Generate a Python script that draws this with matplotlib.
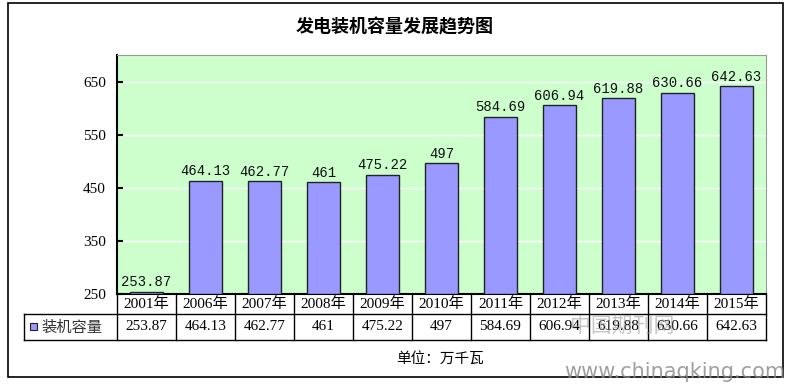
import matplotlib.pyplot as plt
from matplotlib.patches import Rectangle

plt.rcParams['font.family'] = ['Noto Sans CJK SC', 'DejaVu Sans']

years = ['2001年', '2006年', '2007年', '2008年', '2009年', '2010年',
         '2011年', '2012年', '2013年', '2014年', '2015年']
capacity = [253.87, 464.13, 462.77, 461, 475.22, 497,
            584.69, 606.94, 619.88, 630.66, 642.63]
value_text = ['253.87', '464.13', '462.77', '461', '475.22', '497',
              '584.69', '606.94', '619.88', '630.66', '642.63']
series_name = '装机容量'
y_ticks = [250, 350, 450, 550, 650]

W, H = 790, 385
bar_color = '#9999FF'
bg_color = '#CCFFCC'


def fx(px):
    return px / W


def fy(py):
    return 1 - py / H


fig = plt.figure(figsize=(W / 100, H / 100), dpi=100)

# outer chart border
fig.patches.append(Rectangle((fx(8), fy(377)), fx(783) - fx(8), fy(3) - fy(377),
                             transform=fig.transFigure, fill=False,
                             edgecolor='black', linewidth=1.2))

fig.text(fx(395), fy(27), '发电装机容量发展趋势图', ha='center', va='center',
         fontsize=13, fontweight='bold')

# plot area
ax = fig.add_axes([fx(117), fy(294), fx(766) - fx(117), fy(55) - fy(294)])
ax.set_facecolor(bg_color)
x = list(range(len(years)))
ax.bar(x, [v - 250 for v in capacity], bottom=250, width=0.56,
       color=bar_color, edgecolor='#222222', linewidth=1, zorder=3)
for xi, v, t in zip(x, capacity, value_text):
    ax.text(xi, v + 5, t, ha='center', va='bottom', fontsize=10,
            family=['Liberation Mono', 'DejaVu Sans Mono'], color='#111111')

ax.set_xlim(-0.5, len(years) - 0.5)
ax.set_ylim(250, 702)
ax.set_yticks(y_ticks)
ax.set_yticklabels([str(t) for t in y_ticks], family=['Liberation Serif'], fontsize=11)
ax.yaxis.grid(True, color='white', linewidth=1)
ax.set_axisbelow(True)
ax.set_xticks([])
ax.tick_params(axis='y', length=4, width=1.5, direction='in', pad=8)
ax.spines['left'].set_linewidth(1.5)
ax.spines['bottom'].set_linewidth(1.5)
ax.spines['top'].set_color('#999999')
ax.spines['right'].set_color('#999999')

# data table under the plot
tax = fig.add_axes([fx(117), fy(340), fx(766) - fx(117), fy(294) - fy(340)])
tax.set_xlim(-0.5, len(years) - 0.5)
tax.set_ylim(340, 294)
tax.axis('off')
row_mid = 314
left_edge = -0.5 - (117 - 24) / ((766 - 117) / len(years))
lw = 1
tax.plot([left_edge, len(years) - 0.5], [row_mid, row_mid], color='black', lw=lw, clip_on=False)
tax.plot([left_edge, len(years) - 0.5], [340, 340], color='black', lw=lw, clip_on=False)
tax.plot([left_edge, left_edge], [row_mid, 340], color='black', lw=lw, clip_on=False)
for b in range(len(years) + 1):
    tax.plot([b - 0.5, b - 0.5], [294, 340], color='black', lw=lw, clip_on=False)
for xi, yr, t in zip(x, years, value_text):
    tax.text(xi, 304.5, yr, ha='center', va='center', fontsize=11,
             family=['Liberation Serif', 'Noto Sans CJK SC'])
    tax.text(xi, 327, t, ha='center', va='center', fontsize=11,
             family=['Liberation Serif'])

# legend key in the table
key_x = left_edge + 0.1
tax.add_patch(Rectangle((key_x, 323), 0.12, 7, facecolor=bar_color,
                        edgecolor='#222222', lw=0.8, clip_on=False))
tax.text(key_x + 0.19, 327, series_name, ha='left', va='center', fontsize=11,
         color='#333333')

fig.text(fx(440), fy(359), '单位：万千瓦', ha='center', va='center', fontsize=10.5)

# watermark
fig.text(fx(622), fy(326), '中国期刊网', ha='center', va='center', fontsize=15,
         color='#999999', alpha=0.55)
fig.text(fx(785), fy(372), 'www.chinaqking.com', ha='right', va='center',
         fontsize=15, color='#888888', family=['DejaVu Sans'], alpha=0.8)

fig.savefig('out.png', dpi=100)
